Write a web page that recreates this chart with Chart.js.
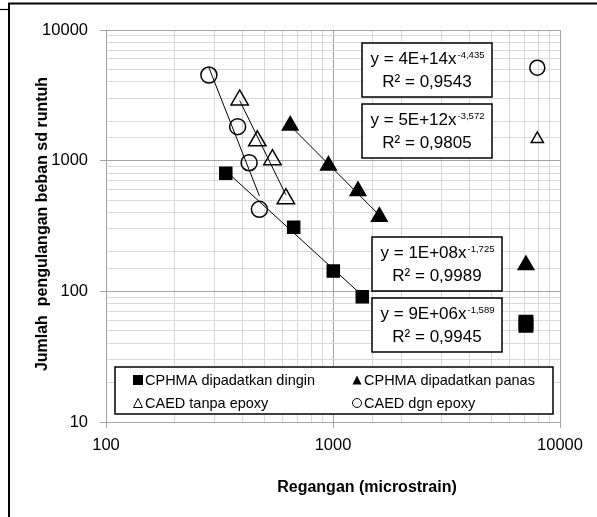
<!DOCTYPE html>
<html>
<head>
<meta charset="utf-8">
<script src="https://cdn.jsdelivr.net/npm/chart.js@4.4.1/dist/chart.umd.min.js"></script>
<style>
  html, body { margin: 0; padding: 0; background: #fff; }
  canvas { display: block; }
</style>
</head>
<body>
<canvas id="fatigueChart" width="597" height="517"></canvas>
<script>
// --- data (strain in microstrain, repetitions to failure) ---
const coldStrain = [337, 671, 1003, 1346];
const coldCycles = [801, 309, 143, 91];
const hotStrain = [648, 955, 1288, 1600];
const hotCycles = [1858, 918, 586, 373];
const noEpoxyStrain = [388, 464, 541, 620];
const noEpoxyCycles = [2913, 1419, 1017, 512];
const epoxyStrain = [284, 380, 427, 474];
const epoxyCycles = [4524, 1820, 965, 424];

// lone marker points placed next to the equation boxes
const keyStrain = [7943, 7943, 7080, 7080, 7080];
const keyCycles = [5148, 1465, 159, 58, 55];

const legendLabels = ['CPHMA dipadatkan dingin', 'CPHMA dipadatkan panas', 'CAED tanpa epoxy', 'CAED dgn epoxy'];
const fitCoef = ['y = 4E+14x', 'y = 5E+12x', 'y = 1E+08x', 'y = 9E+06x'];
const fitExp = ['-4,435', '-3,572', '-1,725', '-1,589'];
const fitR2 = ['R² = 0,9543', 'R² = 0,9805', 'R² = 0,9989', 'R² = 0,9945'];
const xTickLabels = [100, 1000, 10000];
const yTickLabels = [10, 100, 1000, 10000];

const FONT = '"Liberation Sans", Arial, sans-serif';
const MAJOR_GRID = '#a4a4a4';
const MINOR_GRID = '#d9d9d9';

function pts(xs, ys) {
    return xs.map((x, i) => ({ x: x, y: ys[i] }));
}

// power-law trendline (least squares in log-log space), drawn over the data range
function powerFit(xs, ys) {
    const lx = xs.map(v => Math.log10(v));
    const ly = ys.map(v => Math.log10(v));
    const n = xs.length;
    const mx = lx.reduce((a, b) => a + b, 0) / n;
    const my = ly.reduce((a, b) => a + b, 0) / n;
    let sxy = 0, sxx = 0;
    for (let i = 0; i < n; i++) {
        sxy += (lx[i] - mx) * (ly[i] - my);
        sxx += (lx[i] - mx) * (lx[i] - mx);
    }
    const b = sxy / sxx, a = my - b * mx;
    const x0 = Math.min(...xs), x1 = Math.max(...xs);
    return [x0, x1].map(x => ({ x: x, y: Math.pow(10, a + b * Math.log10(x)) }));
}

function isDecade(v) {
    const l = Math.log10(v);
    return Math.abs(l - Math.round(l)) < 1e-9;
}

function trend(xs, ys) {
    return {
        data: powerFit(xs, ys),
        showLine: true,
        borderColor: '#000',
        borderWidth: 1,
        pointRadius: 0,
        order: 2
    };
}

function marks(xs, ys, style, filled, radius) {
    return {
        data: pts(xs, ys),
        showLine: false,
        pointStyle: style,
        pointRadius: radius,
        pointHoverRadius: radius,
        pointBackgroundColor: filled ? '#000' : 'rgba(0,0,0,0)',
        pointBorderColor: '#000',
        pointBorderWidth: 1.5,
        order: 1
    };
}

// small marker shapes for the legend
function drawMark(ctx, style, x, y, s, filled) {
    ctx.beginPath();
    if (style === 'rect') {
        ctx.rect(x - s / 2, y - s / 2, s, s);
    } else if (style === 'triangle') {
        ctx.moveTo(x, y - s / 2);
        ctx.lineTo(x + s / 2, y + s / 2);
        ctx.lineTo(x - s / 2, y + s / 2);
        ctx.closePath();
    } else {
        ctx.arc(x, y, s / 2, 0, Math.PI * 2);
    }
    if (filled) {
        ctx.fillStyle = '#000';
        ctx.fill();
    } else {
        ctx.lineWidth = 1;
        ctx.strokeStyle = '#000';
        ctx.stroke();
    }
}

const decorations = {
    id: 'decorations',
    afterDraw(chart) {
        const ctx = chart.ctx;
        ctx.save();

        // outer frame (page edge left of it stays blank)
        ctx.fillStyle = '#fff';
        ctx.fillRect(0, 11, 8, 506);
        ctx.strokeStyle = '#000';
        ctx.lineWidth = 2;
        ctx.beginPath();
        ctx.moveTo(9, 517);
        ctx.lineTo(9, 3.5);
        ctx.lineTo(597, 3.5);
        ctx.stroke();
        ctx.lineWidth = 1.2;
        ctx.beginPath();
        ctx.moveTo(0, 9.5);
        ctx.lineTo(8, 9.5);
        ctx.stroke();

        // axis titles
        ctx.fillStyle = '#000';
        ctx.font = 'bold 16px ' + FONT;
        ctx.textAlign = 'center';
        ctx.textBaseline = 'middle';
        ctx.fillText('Regangan (microstrain)', 367, 488);
        ctx.save();
        ctx.translate(43, 224);
        ctx.rotate(-Math.PI / 2);
        ctx.fillText('Jumlah  pengulangan beban sd runtuh', 0, 0);
        ctx.restore();

        // equation boxes
        const boxes = [[362, 43], [362, 104], [372, 237], [372, 298]];
        boxes.forEach((b, i) => {
            const bx = b[0], by = b[1], bw = 130, bh = 54;
            ctx.fillStyle = '#fff';
            ctx.fillRect(bx, by, bw, bh);
            ctx.lineWidth = 1.5;
            ctx.strokeStyle = '#000';
            ctx.strokeRect(bx, by, bw, bh);
            ctx.fillStyle = '#000';
            ctx.textBaseline = 'alphabetic';
            ctx.textAlign = 'left';
            ctx.font = '17px ' + FONT;
            const w1 = ctx.measureText(fitCoef[i]).width;
            ctx.font = '9.5px ' + FONT;
            const w2 = ctx.measureText(fitExp[i]).width;
            const sx = bx + bw / 2 - (w1 + w2) / 2;
            ctx.font = '17px ' + FONT;
            ctx.fillText(fitCoef[i], sx, by + 21);
            ctx.font = '9.5px ' + FONT;
            ctx.fillText(fitExp[i], sx + w1 + 1, by + 15);
            ctx.font = '17px ' + FONT;
            ctx.textAlign = 'center';
            ctx.fillText(fitR2[i], bx + bw / 2, by + 44);
        });

        // legend box
        ctx.fillStyle = '#fff';
        ctx.fillRect(115, 367, 438, 47);
        ctx.lineWidth = 1.5;
        ctx.strokeStyle = '#000';
        ctx.strokeRect(115, 367, 438, 47);
        const entries = [
            [138, 380, 'rect', true],
            [357, 380, 'triangle', true],
            [138, 403, 'triangle', false],
            [357, 403, 'circle', false]
        ];
        ctx.font = '14.5px ' + FONT;
        ctx.textAlign = 'left';
        ctx.textBaseline = 'middle';
        entries.forEach((e, i) => {
            drawMark(ctx, e[2], e[0], e[1], e[2] === 'rect' ? 10 : 9, e[3]);
            ctx.fillStyle = '#000';
            ctx.fillText(legendLabels[i], e[0] + 7, e[1] + 1);
        });

        ctx.restore();
    }
};

const ctx = document.getElementById('fatigueChart').getContext('2d');
new Chart(ctx, {
    type: 'scatter',
    data: {
        datasets: [
            marks(coldStrain, coldCycles, 'rect', true, 8.5),
            marks(hotStrain, hotCycles, 'triangle', true, 9),
            marks(noEpoxyStrain, noEpoxyCycles, 'triangle', false, 10),
            marks(epoxyStrain, epoxyCycles, 'circle', false, 8),
            {
                data: pts(keyStrain, keyCycles),
                showLine: false,
                pointStyle: ['circle', 'triangle', 'triangle', 'rect', 'rect'],
                pointRadius: [7.5, 7, 9, 9.5, 9.5],
                pointBackgroundColor: ['rgba(0,0,0,0)', 'rgba(0,0,0,0)', '#000', '#000', '#000'],
                pointBorderColor: '#000',
                pointBorderWidth: 1.5,
                order: 1
            },
            trend(coldStrain, coldCycles),
            trend(hotStrain, hotCycles),
            trend(noEpoxyStrain, noEpoxyCycles),
            trend(epoxyStrain, epoxyCycles)
        ]
    },
    options: {
        responsive: false,
        animation: false,
        events: [],
        layout: { padding: { left: 10, right: 37, top: 30, bottom: 55 } },
        plugins: {
            legend: { display: false },
            tooltip: { enabled: false }
        },
        scales: {
            x: {
                type: 'logarithmic',
                min: 100,
                max: 10000,
                afterFit: s => { s.height = 40; },
                border: { color: MAJOR_GRID, width: 1 },
                grid: {
                    color: c => isDecade(c.tick.value) ? MAJOR_GRID : MINOR_GRID,
                    tickColor: c => isDecade(c.tick.value) ? MAJOR_GRID : 'rgba(0,0,0,0)',
                    tickLength: 6
                },
                ticks: {
                    autoSkip: false,
                    maxRotation: 0,
                    padding: 8,
                    color: '#000',
                    font: { family: FONT, size: 16.5 },
                    callback: v => xTickLabels.includes(v) ? String(v) : ''
                }
            },
            y: {
                type: 'logarithmic',
                min: 10,
                max: 10000,
                afterFit: s => { s.width = 96; },
                border: { color: MAJOR_GRID, width: 1 },
                grid: {
                    color: c => isDecade(c.tick.value) ? MAJOR_GRID : MINOR_GRID,
                    tickColor: c => isDecade(c.tick.value) ? MAJOR_GRID : 'rgba(0,0,0,0)',
                    tickLength: 6
                },
                ticks: {
                    autoSkip: false,
                    padding: 12,
                    color: '#000',
                    font: { family: FONT, size: 16.5 },
                    callback: v => yTickLabels.includes(v) ? String(v) : ''
                }
            }
        }
    },
    plugins: [decorations]
});
</script>
</body>
</html>
